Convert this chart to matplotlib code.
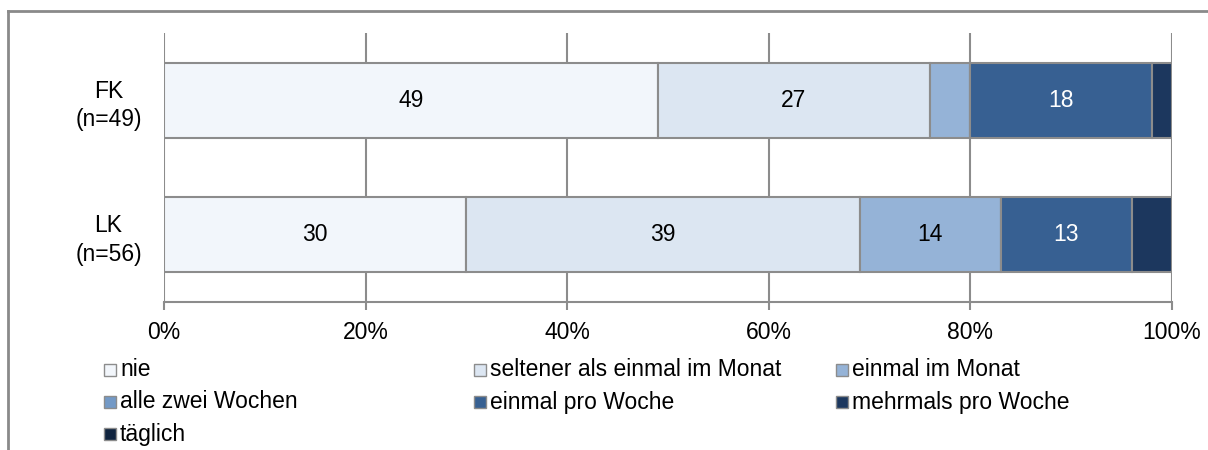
import matplotlib
matplotlib.use("Agg")
import matplotlib.pyplot as plt
from matplotlib.patches import Rectangle
from matplotlib.lines import Line2D
import numpy as np

plt.rcParams["font.family"] = ["Liberation Sans", "DejaVu Sans"]
plt.rcParams["font.size"] = 16.5

groups = ["LK\n(n=56)", "FK\n(n=49)"]
categories = ["nie", "seltener als einmal im Monat", "einmal im Monat",
              "alle zwei Wochen", "einmal pro Woche", "mehrmals pro Woche",
              "täglich"]
# percent per category, rows follow groups (LK, FK)
lk = [30, 39, 14, 0, 13, 4, 0]
fk = [49, 27, 4, 0, 18, 2, 0]
values = np.array([lk, fk], float)

colors = ["#F2F6FB", "#DCE6F2", "#95B3D7", "#7399C6", "#376092", "#1C375E", "#10243F"]
text_colors = ["black", "black", "black", "black", "white", "white", "white"]
edge = "#8C8C8C"

W, H = 1208, 450
fig = plt.figure(figsize=(W / 100, H / 100), dpi=100)

# outer frame, top and left sides only visible
fig.add_artist(Line2D([8 / W, 1.05], [1 - 11 / H, 1 - 11 / H], color="#8A8A8A", lw=2))
fig.add_artist(Line2D([8 / W, 8 / W], [1 - 11 / H, -0.05], color="#8A8A8A", lw=2))

ax = fig.add_axes([164 / W, 1 - 302 / H, 1008 / W, 269 / H])

y = np.arange(len(groups))
left = np.zeros(len(groups))
for i, cat in enumerate(categories):
    ax.barh(y, values[:, i], left=left, height=0.56, color=colors[i],
            edgecolor=edge, linewidth=1.5, zorder=3)
    for j in range(len(groups)):
        v = values[j, i]
        if v >= 10:
            ax.text(left[j] + v / 2, y[j], f"{v:.0f}", ha="center",
                    va="center", color=text_colors[i], fontsize=16.5, zorder=4)
    left += values[:, i]

ax.set_xlim(0, 100)
ax.set_ylim(-0.5, 1.5)
ax.set_xticks(np.arange(0, 101, 20))
ax.set_xticklabels([f"{t}%" for t in range(0, 101, 20)])
ax.set_yticks(y)
ax.set_yticklabels(groups, multialignment="center", ha="center", linespacing=1.3)
ax.tick_params(axis="y", length=0, pad=40)
ax.tick_params(axis="x", length=6, width=1.5, color=edge, pad=8)
ax.grid(axis="x", color=edge, linewidth=1.5, zorder=0)
for s in ["top", "right", "left"]:
    ax.spines[s].set_visible(False)
ax.spines["bottom"].set_color(edge)
ax.spines["bottom"].set_linewidth(1.5)

# legend, three columns laid out by hand
col_x = [104, 474, 836]
row_y = [370, 402, 434]
for k, cat in enumerate(categories):
    r, c = divmod(k, 3)
    x0, y0 = col_x[c], row_y[r]
    fig.add_artist(Rectangle((x0 / W, 1 - (y0 + 6) / H), 12 / W, 12 / H,
                             facecolor=colors[k], edgecolor=edge, linewidth=1))
    fig.text((x0 + 16) / W, 1 - y0 / H, cat, ha="left", va="center", fontsize=16.5)

fig.savefig("out.png", dpi=100)
